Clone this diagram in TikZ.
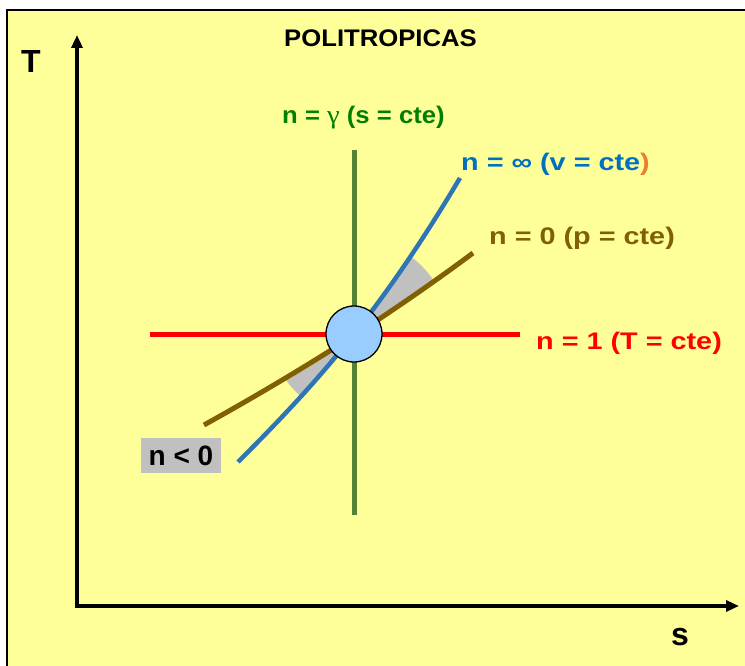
\documentclass[tikz,border=0pt]{standalone}
\usepackage{fontspec}
\setmainfont{Liberation Sans}
\newfontfamily\labfont{Liberation Sans}[FakeStretch=1.2]
\newfontfamily\titfont{Liberation Sans}[FakeStretch=1.07]
\newfontfamily\gfont{Liberation Serif}[FakeStretch=1.1]
\usetikzlibrary{arrows.meta}
\definecolor{bgyellow}{RGB}{255,255,153}
\definecolor{vgreen}{RGB}{84,130,53}
\definecolor{tgreen}{RGB}{0,128,0}
\definecolor{cblue}{RGB}{46,117,182}
\definecolor{tblue}{RGB}{0,112,192}
\definecolor{torange}{RGB}{237,125,49}
\definecolor{cbrown}{RGB}{128,96,0}
\definecolor{wedge}{RGB}{192,192,192}
\definecolor{cfill}{RGB}{153,204,255}
\tikzset{
  lab/.style={inner sep=0pt, anchor=base west, font=\labfont\bfseries\fontsize{24}{24}\selectfont},
  axislab/.style={inner sep=0pt, anchor=base west, font=\bfseries\fontsize{32}{32}\selectfont},
  axisline/.style={line width=3.5pt, {Triangle[length=13pt,width=11pt]}-{Triangle[length=13pt,width=11pt]}},
  curve/.style={line width=5pt},
}
\begin{document}
\begin{tikzpicture}[x=1pt,y=-1pt]
\useasboundingbox (0,0) rectangle (745,666);
\fill[white] (0,0) rectangle (745,666);
\fill[bgyellow] (7,10) rectangle (746,667);
\draw[line width=1.5pt] (7,667) -- (7,10) -- (746,10);

% title and axis labels
\node[inner sep=0pt, anchor=base west, font=\titfont\bfseries\fontsize{24}{24}\selectfont] (title) at (284,47) {POLITROPICAS};
\node[axislab] (Tlab) at (21,73) {T};
\node[axislab] (slab) at (671,645) {s};

% axes
\coordinate (Ty) at (77,35);
\coordinate (O) at (77,606);
\coordinate (Sx) at (739,606);
\draw[axisline, line join=miter] (Ty) -- (O) -- (Sx);

% key points
\coordinate (C) at (354,334);
\coordinate (bA) at (238,462);
\coordinate (bB) at (460,178);
\coordinate (rA) at (204,425);
\coordinate (rB) at (473,253);
\coordinate (hA) at (150,334);
\coordinate (hB) at (520,334);
\coordinate (vA) at (354,150);
\coordinate (vB) at (354,515);

% grey wedges
\begin{scope}
  \clip (C) circle (96);
  \clip (0,0) rectangle (745,334);
  \fill[wedge] (bA) .. controls (318,382) and (380,312.4) .. (bB) -- (rB) .. controls (383,320) and (294,375) .. (rA) -- cycle;
\end{scope}
\begin{scope}
  \clip (C) circle (82);
  \clip (0,334) rectangle (745,666);
  \fill[wedge] (bA) .. controls (318,382) and (380,312.4) .. (bB) -- (rB) .. controls (383,320) and (294,375) .. (rA) -- cycle;
\end{scope}

% lines
\draw[curve, red] (hA) -- (hB);
\draw[curve, vgreen] (vA) -- (vB);
\draw[curve, cbrown] (rA) .. controls (294,375) and (383,320) .. (rB);
\draw[line width=4.5pt, cblue] (bA) .. controls (318,382) and (380,312.4) .. (bB);
\node[circle, draw=black, line width=1.3pt, fill=cfill, minimum size=56pt, inner sep=0pt] (state) at (C) {};

% labels
\node[inner sep=0pt, anchor=base west, font=\titfont\bfseries\fontsize{24}{24}\selectfont, text=tgreen] (lgamma) at (282,124) {n = {\gfont\mdseries\fontsize{26}{26}\selectfont γ} (s = cte)};
\node[lab, text=tblue] (linf) at (461,171) {n = ∞ (v = cte\textcolor{torange}{)}};
\node[lab, text=cbrown] (lzero) at (489,244) {n = 0 (p = cte)};
\node[lab, text=red] (lone) at (536,349) {n = 1 (T = cte)};
\node[fill=wedge, minimum width=80pt, minimum height=35pt, inner sep=0pt, font=\bfseries\fontsize{28}{28}\selectfont] (lneg) at (181,455.5) {n < 0};
\end{tikzpicture}
\end{document}
